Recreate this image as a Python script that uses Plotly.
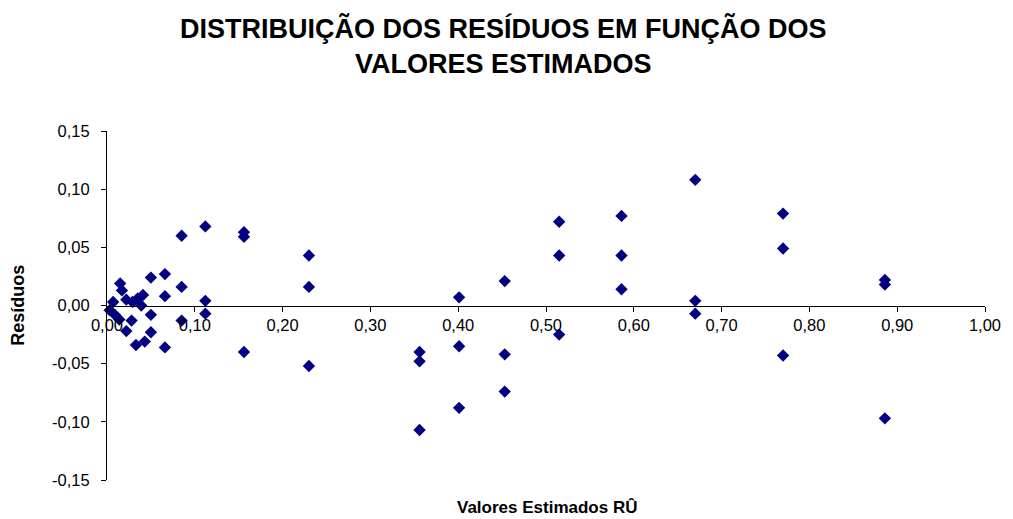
import plotly.graph_objects as go

# Estimated values (RÛ) and residuals
valores_estimados = [
    0.003, 0.007, 0.009, 0.014, 0.015, 0.017, 0.022, 0.022, 0.028, 0.029,
    0.033, 0.035, 0.039, 0.041, 0.043, 0.050, 0.050, 0.050, 0.066, 0.066,
    0.066, 0.085, 0.085, 0.085, 0.112, 0.112, 0.112, 0.156, 0.156, 0.156,
    0.230, 0.230, 0.230, 0.356, 0.356, 0.356, 0.401, 0.401, 0.401, 0.453,
    0.453, 0.453, 0.515, 0.515, 0.515, 0.586, 0.586, 0.586, 0.670, 0.670,
    0.670, 0.770, 0.770, 0.770, 0.886, 0.886, 0.886,
]
residuos = [
    -0.004, 0.003, -0.008, -0.012, 0.019, 0.013, 0.005, -0.022, -0.013, 0.003,
    -0.034, 0.006, 0.000, 0.009, -0.031, 0.024, -0.008, -0.023, 0.027, 0.008,
    -0.036, 0.060, 0.016, -0.013, 0.068, 0.004, -0.007, 0.063, 0.059, -0.040,
    0.043, 0.016, -0.052, -0.040, -0.048, -0.107, 0.007, -0.035, -0.088, 0.021,
    -0.042, -0.074, 0.072, 0.043, -0.025, 0.077, 0.043, 0.014, 0.108, 0.004,
    -0.007, 0.079, 0.049, -0.043, 0.022, 0.018, -0.097,
]

x_ticks = [0.0, 0.1, 0.2, 0.3, 0.4, 0.5, 0.6, 0.7, 0.8, 0.9, 1.0]
x_tick_labels = ["0,00", "0,10", "0,20", "0,30", "0,40", "0,50",
                 "0,60", "0,70", "0,80", "0,90", "1,00"]
y_ticks = [-0.15, -0.10, -0.05, 0.0, 0.05, 0.10, 0.15]
y_tick_labels = ["-0,15", "-0,10", "-0,05", "0,00", "0,05", "0,10", "0,15"]

FONT = "Arial, Liberation Sans, sans-serif"
Y_MIN, Y_MAX = -0.15, 0.15

fig = go.Figure(
    go.Scatter(
        x=valores_estimados,
        y=residuos,
        mode="markers",
        marker=dict(symbol="diamond", size=9.5, color="#000080",
                    line=dict(width=0)),
        cliponaxis=False,
        showlegend=False,
    )
)

fig.update_layout(
    width=1013,
    height=519,
    margin=dict(l=107, r=24, t=131, b=39),
    paper_bgcolor="white",
    plot_bgcolor="white",
    font=dict(family=FONT, size=16, color="black"),
    xaxis=dict(
        range=[0, 1],
        tickvals=x_ticks,
        ticktext=x_tick_labels,
        showgrid=False,
        zeroline=False,
        showline=True,
        linecolor="black",
        linewidth=1,
        ticks="outside",
        ticklen=5,
        tickcolor="black",
        anchor="free",
        # the horizontal axis crosses the vertical one at y = 0
        position=(0 - Y_MIN) / (Y_MAX - Y_MIN),
        tickfont=dict(size=16.5),
    ),
    yaxis=dict(
        range=[Y_MIN, Y_MAX],
        tickvals=y_ticks,
        ticktext=y_tick_labels,
        showgrid=False,
        zeroline=False,
        showline=True,
        linecolor="black",
        linewidth=1,
        ticks="outside",
        ticklen=5,
        tickcolor="black",
        ticklabelstandoff=8,
        tickfont=dict(size=16.5),
    ),
    annotations=[
        dict(
            text="<b>DISTRIBUIÇÃO DOS RESÍDUOS EM FUNÇÃO DOS<br>VALORES ESTIMADOS</b>",
            xref="paper", yref="paper",
            x=0.452, y=1.243, xanchor="center", yanchor="middle",
            showarrow=False, font=dict(size=27),
        ),
        dict(
            text="<b>Valores Estimados RÛ</b>",
            xref="paper", yref="paper",
            x=0.501, y=-0.080, xanchor="center", yanchor="middle",
            showarrow=False, font=dict(size=17),
        ),
        dict(
            text="<b>Resíduos</b>",
            xref="paper", yref="paper",
            x=-0.1014, y=0.502, xanchor="center", yanchor="middle",
            textangle=-90, showarrow=False, font=dict(size=18),
        ),
    ],
)

fig.write_html("out.html")
